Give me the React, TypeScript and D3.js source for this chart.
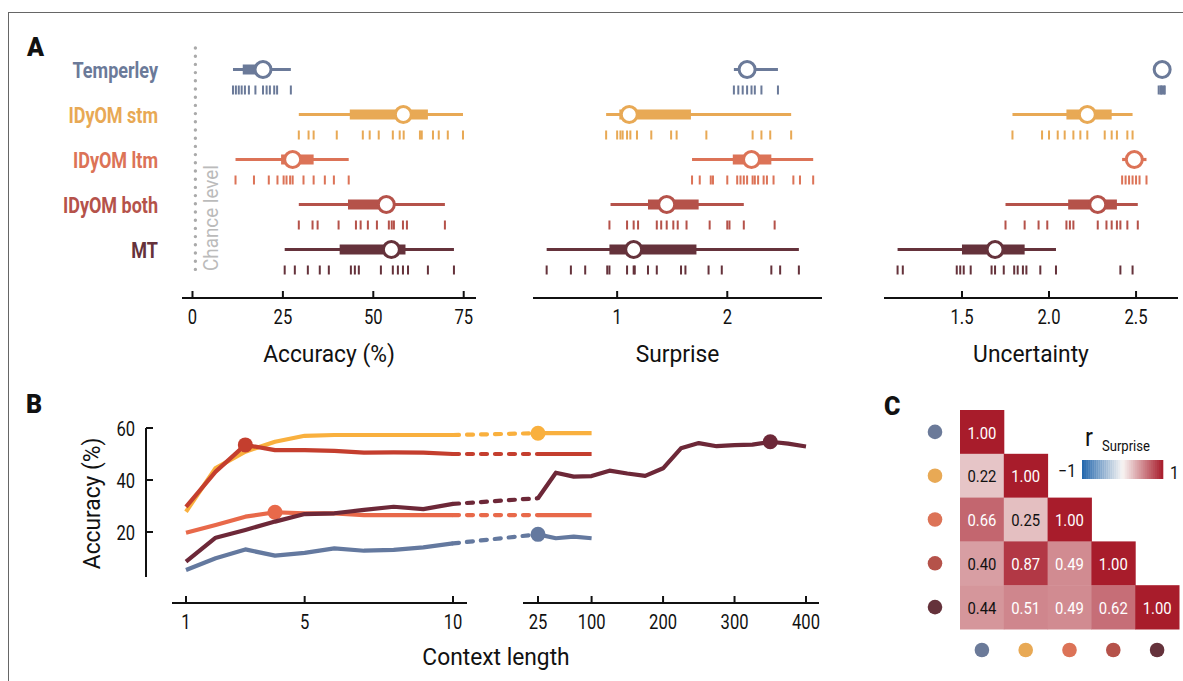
import * as d3 from 'd3'

const models = ['Temperley', 'IDyOM stm', 'IDyOM ltm', 'IDyOM both', 'MT']
const modelColors = ['#6b7a99', '#e8a955', '#dc7357', '#b5524a', '#65323b']
const lineColors = ['#64799f', '#f9b03e', '#e8694a', '#c43e2e', '#6d2838']

// [min, q1, median, q3, max] per model
const accuracyStats = [
  [11.2, 13.9, 19.5, 21.5, 27.2],
  [29.4, 43.5, 58.3, 65.1, 74.8],
  [11.9, 24.5, 27.7, 33.5, 43.2],
  [29.4, 43.0, 53.6, 55.0, 69.8],
  [25.5, 40.7, 55.0, 58.9, 72.3],
]
const surpriseStats = [
  [2.06, 2.12, 2.18, 2.24, 2.46],
  [0.9, 1.02, 1.11, 1.67, 2.58],
  [1.68, 2.05, 2.22, 2.4, 2.78],
  [0.94, 1.28, 1.45, 1.74, 2.15],
  [0.36, 0.93, 1.15, 1.72, 2.65],
]
const uncertaintyStats = [
  [2.63, 2.645, 2.65, 2.655, 2.665],
  [1.79, 2.1, 2.22, 2.36, 2.48],
  [2.42, 2.46, 2.49, 2.51, 2.56],
  [1.75, 2.11, 2.28, 2.39, 2.51],
  [1.13, 1.5, 1.69, 1.86, 2.04],
]

// per-piece values (rug)
const accuracyRug = [
  [11.2, 12.0, 12.8, 13.6, 14.5, 15.6, 17.4, 19.5, 20.5, 21.4, 22.6, 23.4, 27.2],
  [29.4, 32.1, 33.5, 39.9, 47.1, 49.0, 51.5, 55.4, 57.3, 58.4, 62.9, 63.4, 66.5, 68.1, 70.6, 74.8],
  [11.9, 17.0, 21.1, 23.5, 25.2, 26.0, 27.0, 27.7, 30.7, 33.5, 36.6, 39.1, 43.2],
  [29.4, 33.2, 34.6, 40.4, 45.2, 46.5, 48.5, 51.0, 54.3, 55.1, 55.7, 58.2, 59.3, 69.8],
  [25.5, 28.3, 31.9, 35.2, 37.7, 43.8, 44.9, 46.0, 52.1, 55.4, 56.8, 58.2, 59.6, 65.1, 72.3],
]
const surpriseRug = [
  [2.06, 2.1, 2.14, 2.18, 2.22, 2.25, 2.31, 2.46],
  [0.9, 1.0, 1.03, 1.05, 1.09, 1.12, 1.18, 1.31, 1.49, 1.54, 1.81, 2.23, 2.31, 2.39, 2.58],
  [1.68, 1.75, 1.85, 1.87, 2.0, 2.09, 2.12, 2.15, 2.18, 2.23, 2.25, 2.28, 2.33, 2.36, 2.42, 2.6, 2.66, 2.78],
  [0.93, 1.09, 1.15, 1.19, 1.36, 1.4, 1.45, 1.51, 1.55, 1.63, 1.84, 2.0, 2.02, 2.15, 2.43],
  [0.36, 0.58, 0.71, 0.91, 0.93, 1.09, 1.15, 1.16, 1.28, 1.36, 1.58, 1.62, 1.83, 1.95, 2.4, 2.48, 2.65],
]
const uncertaintyRug = [
  [2.63, 2.64, 2.645, 2.65, 2.66, 2.665],
  [1.79, 1.96, 2.0, 2.05, 2.09, 2.14, 2.18, 2.22, 2.32, 2.36, 2.39, 2.45, 2.48],
  [2.42, 2.44, 2.46, 2.48, 2.5, 2.52, 2.56],
  [1.75, 1.86, 1.94, 1.99, 2.1, 2.12, 2.14, 2.28, 2.33, 2.36, 2.39, 2.41, 2.45, 2.51],
  [1.13, 1.16, 1.47, 1.49, 1.51, 1.55, 1.67, 1.69, 1.74, 1.8, 1.82, 1.85, 1.87, 1.95, 2.04, 2.41, 2.48],
]

const accuracyTicks = [0, 25, 50, 75]
const surpriseTicks = [1, 2]
const uncertaintyTicks = [1.5, 2.0, 2.5]
const chanceLevel = 0.8

// panel B: accuracy by context length
const contextShort = [1, 2, 3, 4, 5, 6, 7, 8, 9, 10]
const contextLong = [25, 50, 75, 100]
const contextLongMT = [25, 50, 75, 100, 125, 150, 175, 200, 225, 250, 275, 300, 325, 350, 375, 400]
const shortAcc = [
  [5.4, 9.9, 13.3, 10.9, 12.0, 13.7, 12.8, 13.1, 14.1, 15.6],
  [27.8, 44.6, 50.9, 54.7, 57.0, 57.3, 57.3, 57.3, 57.3, 57.3],
  [19.7, 22.7, 25.9, 27.6, 27.2, 27.2, 26.5, 26.5, 26.5, 26.5],
  [29.7, 43.2, 53.5, 51.5, 51.5, 51.2, 50.5, 50.6, 50.5, 50.0],
  [8.6, 17.8, 20.8, 24.0, 26.9, 27.2, 28.5, 29.7, 28.8, 30.8],
]
const longAcc = [
  [19.1, 17.6, 18.2, 17.6],
  [58.0, 58.0, 58.0, 58.0],
  [26.5, 26.5, 26.5, 26.5],
  [50.0, 50.0, 50.0, 50.0],
  [33.0, 42.8, 41.3, 41.5, 43.6, 42.5, 41.6, 44.5, 52.2, 54.2, 53.0, 53.4, 53.6, 54.7, 54.0, 52.9],
]
const bestContext = [25, 25, 4, 3, 350]
const bestAcc = [19.1, 58.0, 27.6, 53.5, 54.7]
const shortTicks = [1, 5, 10]
const longTicks = [25, 100, 200, 300, 400]
const yTicksB = [20, 40, 60]

// panel C: correlation of surprise (lower triangle)
const corr = [
  [1.0],
  [0.22, 1.0],
  [0.66, 0.25, 1.0],
  [0.4, 0.87, 0.49, 1.0],
  [0.44, 0.51, 0.49, 0.62, 1.0],
]

const FONT = 'Roboto, sans-serif'
const INK = '#111'

const rowY = d3.scalePoint<string>().domain(models).range([69.5, 249.5])

// narrow text, to look like the condensed face of the original
function CText({ x, y, sx = 0.85, rotate = 0, children, ...rest }: any) {
  return (
    <text transform={`translate(${x},${y}) rotate(${rotate}) scale(${sx},1)`} dominantBaseline="central" {...rest}>
      {children}
    </text>
  )
}

function IntervalPanel({ stats, rugs, x, ticks, fmt, title, axisY }: any) {
  const [x0, x1] = x.range()
  return (
    <g>
      {models.map((m, i) => {
        const y = rowY(m)!
        const [mn, q1, md, q3, mx] = stats[i]
        const c = modelColors[i]
        return (
          <g key={m}>
            <line x1={x(mn)} x2={x(mx)} y1={y} y2={y} stroke={c} strokeWidth={3.2} />
            <rect x={x(q1)} width={x(q3) - x(q1)} y={y - 5} height={10} fill={c} />
            <circle cx={x(md)} cy={y} r={8} fill="#fff" stroke={c} strokeWidth={3} />
            {rugs[i].map((v: number, j: number) => (
              <rect key={j} x={x(v) - 1} y={y + 16} width={2} height={9} fill={c} />
            ))}
          </g>
        )
      })}
      <line x1={x0} x2={x1} y1={axisY} y2={axisY} stroke={INK} strokeWidth={2} />
      {ticks.map((t: number) => (
        <g key={t}>
          <line x1={x(t)} x2={x(t)} y1={axisY} y2={axisY - 7} stroke={INK} strokeWidth={2} />
          <CText x={x(t)} y={axisY + 19} textAnchor="middle" fontSize={19.5} fill={INK}>
            {fmt(t)}
          </CText>
        </g>
      ))}
      <CText x={(x0 + x1) / 2} y={axisY + 56} sx={0.93} textAnchor="middle" fontSize={24.5} fill={INK}>
        {title}
      </CText>
    </g>
  )
}

function PanelA() {
  const accX = d3.scaleLinear().domain([-2.9, 78.4]).range([182, 476])
  const surpX = d3.scaleLinear().domain([0.236, 2.86]).range([533, 822])
  const uncX = d3.scaleLinear().domain([1.052, 2.741]).range([884, 1178])
  const axisY = 298
  return (
    <g>
      <text x={27} y={47} fontSize={25} fontWeight={900} dominantBaseline="central" fill={INK}>A</text>
      {models.map((m, i) => (
        <CText key={m} x={158} y={rowY(m)! + 1} sx={0.8} textAnchor="end"
          fontSize={22.5} fontWeight={700} fill={modelColors[i]}>
          {m}
        </CText>
      ))}
      <line x1={accX(chanceLevel)} x2={accX(chanceLevel)} y1={48} y2={272} stroke="#aaa"
        strokeWidth={3.4} strokeLinecap="round" strokeDasharray="0 8.2" />
      <CText x={211} y={271} rotate={-90} sx={0.92} fontSize={20.5} fill="#bbb">
        Chance level
      </CText>
      <IntervalPanel stats={accuracyStats} rugs={accuracyRug} x={accX} ticks={accuracyTicks}
        fmt={(t: number) => String(t)} title="Accuracy (%)" axisY={axisY} />
      <IntervalPanel stats={surpriseStats} rugs={surpriseRug} x={surpX} ticks={surpriseTicks}
        fmt={(t: number) => String(t)} title="Surprise" axisY={axisY} />
      <IntervalPanel stats={uncertaintyStats} rugs={uncertaintyRug} x={uncX} ticks={uncertaintyTicks}
        fmt={d3.format('.1f')} title="Uncertainty" axisY={axisY} />
    </g>
  )
}

function PanelB() {
  const yB = d3.scaleLinear().domain([0, 60]).range([584, 428])
  const xShort = d3.scaleLinear().domain([1, 10]).range([186, 453])
  const xLong = d3.scaleLinear().domain([25, 400]).range([538, 806])
  const axisY = 603
  const line = d3.line<[number, number]>().x((d) => d[0]).y((d) => d[1])
  const order = [0, 2, 1, 3, 4]
  return (
    <g>
      <text x={26} y={404} fontSize={25} fontWeight={900} dominantBaseline="central" fill={INK}>B</text>
      {/* y axis */}
      <line x1={146} x2={146} y1={yB(60)} y2={yB(2.7)} stroke={INK} strokeWidth={2} />
      {yTicksB.map((t) => (
        <g key={t}>
          <line x1={146} x2={153} y1={yB(t)} y2={yB(t)} stroke={INK} strokeWidth={2} />
          <CText x={135} y={yB(t) + 1} textAnchor="end" fontSize={19.5} fill={INK}>{t}</CText>
        </g>
      ))}
      <CText x={92} y={yB(31)} rotate={-90} sx={0.93} textAnchor="middle" fontSize={24.5} fill={INK}>
        Accuracy (%)
      </CText>
      {/* x axes (broken) */}
      <line x1={172} x2={467} y1={axisY} y2={axisY} stroke={INK} strokeWidth={2} />
      <line x1={523} x2={819} y1={axisY} y2={axisY} stroke={INK} strokeWidth={2} />
      {shortTicks.map((t) => (
        <g key={'s' + t}>
          <line x1={xShort(t)} x2={xShort(t)} y1={axisY} y2={axisY - 7} stroke={INK} strokeWidth={2} />
          <CText x={xShort(t)} y={axisY + 19} textAnchor="middle" fontSize={19.5} fill={INK}>{t}</CText>
        </g>
      ))}
      {longTicks.map((t) => (
        <g key={'l' + t}>
          <line x1={xLong(t)} x2={xLong(t)} y1={axisY} y2={axisY - 7} stroke={INK} strokeWidth={2} />
          <CText x={xLong(t)} y={axisY + 19} textAnchor="middle" fontSize={19.5} fill={INK}>{t}</CText>
        </g>
      ))}
      <CText x={496} y={657} sx={0.93} textAnchor="middle" fontSize={24.5} fill={INK}>Context length</CText>
      {/* lines */}
      {order.map((i) => {
        const c = lineColors[i]
        const sh = shortAcc[i]
        const lg = longAcc[i]
        const lx = i === 4 ? contextLongMT : contextLong
        const shortPts = contextShort.map((k, j) => [xShort(k), yB(sh[j])] as [number, number])
        const longPts = lx.map((k, j) => [xLong(k), yB(lg[j])] as [number, number])
        const bridge = [shortPts[shortPts.length - 1], longPts[0]]
        const bc = bestContext[i]
        const bx = bc <= 10 ? xShort(bc) : xLong(bc)
        return (
          <g key={i}>
            <path d={line(shortPts) ?? ''} fill="none" stroke={c} strokeWidth={4.2} strokeLinejoin="round" />
            <path d={line(bridge) ?? ''} fill="none" stroke={c} strokeWidth={4.2} strokeLinecap="round"
              strokeDasharray="6 8" />
            <path d={line(longPts) ?? ''} fill="none" stroke={c} strokeWidth={4.2} strokeLinejoin="round" />
            <circle cx={bx} cy={yB(bestAcc[i])} r={7.5} fill={c} />
          </g>
        )
      })}
    </g>
  )
}

function PanelC() {
  const cx = d3.scaleBand<string>().domain(models).range([960, 1179])
  const cy = d3.scaleBand<string>().domain(models).range([410, 629])
  const color = d3.scaleLinear<string>().domain([-1, 0, 1]).range(['#2166ac', '#f8f5f3', '#a81c2b'])
  const bw = cx.bandwidth()
  const cbX = d3.scaleLinear().domain([-1, 1]).range([1082, 1163])
  const bands = d3.range(-1, 1, 0.05)
  return (
    <g>
      <text x={884} y={406} fontSize={25} fontWeight={900} dominantBaseline="central" fill={INK}>C</text>
      {corr.map((row, i) =>
        row.map((v, j) => (
          <g key={`${i}-${j}`}>
            <rect x={cx(models[j])!} y={cy(models[i])!} width={bw + 0.5} height={bw + 0.5} fill={color(v)} />
            <CText x={cx(models[j])! + bw / 2} y={cy(models[i])! + bw / 2 + 1} sx={0.9} textAnchor="middle"
              fontSize={16.5} fill={v > 0.45 ? '#fff' : INK}>
              {d3.format('.2f')(v)}
            </CText>
          </g>
        ))
      )}
      {models.map((m, i) => (
        <g key={m}>
          <circle cx={935} cy={cy(m)! + bw / 2} r={7.3} fill={modelColors[i]} />
          <circle cx={cx(m)! + bw / 2} cy={650} r={7.3} fill={modelColors[i]} />
        </g>
      ))}
      {bands.map((b) => (
        <rect key={b} x={cbX(b)} y={460} width={cbX(b + 0.05) - cbX(b) + 0.3} height={19} fill={color(b + 0.025)} />
      ))}
      <CText x={1085} y={437} sx={0.9} fontSize={26} fill={INK}>r</CText>
      <CText x={1102} y={446} sx={0.9} fontSize={14.5} fill={INK}>Surprise</CText>
      <CText x={1076} y={471} sx={0.9} fontSize={17.5} fill={INK} textAnchor="end">−1</CText>
      <CText x={1170} y={473} sx={0.9} fontSize={17.5} fill={INK}>1</CText>
    </g>
  )
}

export default function App() {
  return (
    <div style={{ position: 'absolute', left: 0, top: 0 }}>
      <svg width={1183} height={681} style={{ display: 'block', fontFamily: FONT, background: '#fff' }}>
        <rect x={8.5} y={12.5} width={1300} height={800} fill="none" stroke="#666" strokeWidth={1} />
        <PanelA />
        <PanelB />
        <PanelC />
      </svg>
    </div>
  )
}
